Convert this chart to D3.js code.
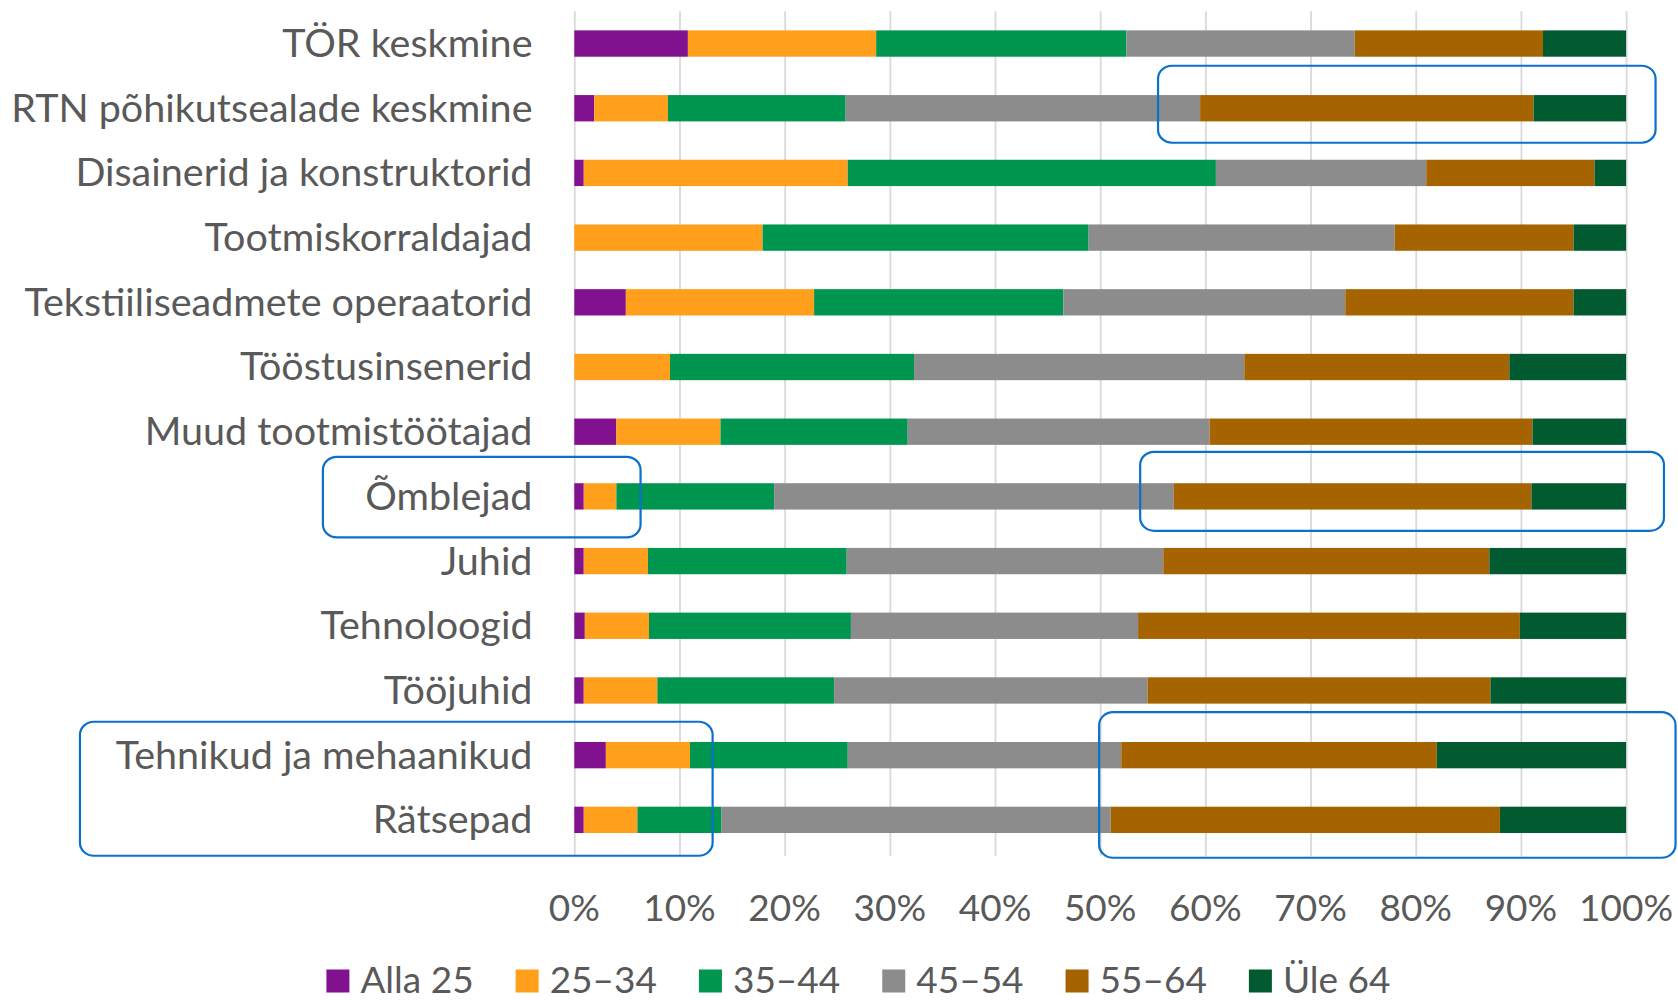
<!DOCTYPE html>
<html>
<head>
<meta charset="utf-8">
<title>Vanuseline jaotus</title>
<script src="https://cdn.jsdelivr.net/npm/d3@7"></script>
<style>
body { margin: 0; background: #fff; }
text { font-family: Lato, "Open Sans", sans-serif; fill: #595959; }
.grid line { stroke: #d9d9d9; stroke-width: 1.8px; }
.grid path { display: none; }
.note { fill: none; stroke: #0a70cc; stroke-width: 2.2px; }
</style>
</head>
<body>
<script>
// kategooriad ülevalt alla
var categories = [
  "TÖR keskmine",
  "RTN põhikutsealade keskmine",
  "Disainerid ja konstruktorid",
  "Tootmiskorraldajad",
  "Tekstiiliseadmete operaatorid",
  "Tööstusinsenerid",
  "Muud tootmistöötajad",
  "Õmblejad",
  "Juhid",
  "Tehnoloogid",
  "Tööjuhid",
  "Tehnikud ja mehaanikud",
  "Rätsepad"
];

var seriesNames = ["Alla 25", "25–34", "35–44", "45–54", "55–64", "Üle 64"];
var seriesColors = ["#821190", "#ff9f1c", "#00964f", "#8c8c8c", "#a66400", "#025a30"];

// osakaalud protsentides, üks massiiv iga vanuserühma kohta
var alla25 = [10.8, 1.9, 0.9, 0, 4.9, 0, 4.0, 0.9, 0.9, 1.0, 0.9, 3.0, 0.9];
var v25_34 = [17.9, 7.0, 25.1, 17.9, 17.9, 9.1, 9.9, 3.1, 6.1, 6.1, 7.0, 8.0, 5.1];
var v35_44 = [23.8, 16.9, 35.0, 31.0, 23.7, 23.2, 17.8, 15.0, 18.9, 19.2, 16.8, 15.0, 8.0];
var v45_54 = [21.7, 33.7, 20.0, 29.1, 26.8, 31.4, 28.7, 38.0, 30.1, 27.3, 29.8, 26.0, 37.0];
var v55_64 = [17.9, 31.7, 16.0, 17.0, 21.7, 25.2, 30.7, 34.0, 31.0, 36.3, 32.6, 30.0, 37.0];
var yle64 = [7.9, 8.8, 3.0, 5.0, 5.0, 11.1, 8.9, 9.0, 13.0, 10.1, 12.9, 18.0, 12.0];

var tickValues = [0, 10, 20, 30, 40, 50, 60, 70, 80, 90, 100];

// esiletõstetud alad: ridade vahemik ja x protsentides
var notes = [
  { from: 1, to: 1, x0: 55.5, x1: 102.8, above: 42.5, below: 34.5 },
  { from: 7, to: 7, x0: -23.9, x1: 6.3, above: 39.6, below: 41 },
  { from: 7, to: 7, x0: 53.8, x1: 103.6, above: 44.6, below: 34.4 },
  { from: 11, to: 12, x0: -47.0, x1: 13.15, above: 33.4, below: 35.9 },
  { from: 11, to: 12, x0: 49.9, x1: 104.7, above: 43, below: 37.9 }
];

var width = 1678, height = 1000;
var plotLeft = 574.3, plotRight = 1626.1, plotTop = 11.2, plotBottom = 852.2;

var seriesData = [alla25, v25_34, v35_44, v45_54, v55_64, yle64];
var rows = categories.map(function(c, i) {
  var r = { name: c };
  seriesNames.forEach(function(s, k) { r[s] = seriesData[k][i]; });
  return r;
});

var stack = d3.stack().keys(seriesNames)(rows);

var x = d3.scaleLinear().domain([0, 100]).range([plotLeft, plotRight]);
var y = d3.scaleBand().domain(categories).range([plotTop, plotBottom])
  .paddingInner(0.593).paddingOuter(0.2965);

var svg = d3.select("body").append("svg")
  .attr("width", width)
  .attr("height", height);

svg.append("g")
  .attr("class", "grid")
  .attr("transform", "translate(0," + plotTop + ")")
  .call(d3.axisBottom(x).tickValues(tickValues).tickSize(plotBottom - plotTop + 4).tickFormat(""));

svg.append("g")
  .selectAll("g")
  .data(stack)
  .enter().append("g")
  .attr("fill", function(d, i) { return seriesColors[i]; })
  .selectAll("rect")
  .data(function(d) { return d; })
  .enter().append("rect")
  .attr("x", function(d) { return x(d[0]); })
  .attr("y", function(d) { return y(d.data.name); })
  .attr("width", function(d) { return x(d[1]) - x(d[0]); })
  .attr("height", y.bandwidth());

// kategooriate sildid
svg.append("g")
  .selectAll("text")
  .data(categories)
  .enter().append("text")
  .attr("x", 532.5)
  .attr("y", function(d) { return y(d) + y.bandwidth() / 2; })
  .attr("dy", "0.34em")
  .attr("text-anchor", "end")
  .style("font-size", "39.5px")
  .text(function(d) { return d; });

// x-telje sildid
svg.append("g")
  .selectAll("text")
  .data(tickValues)
  .enter().append("text")
  .attr("x", function(d) { return x(d); })
  .attr("y", 920.5)
  .attr("text-anchor", "middle")
  .style("font-size", "37px")
  .text(function(d) { return d + "%"; });

// legend
var legend = svg.append("g");
var lx = 326.4;
seriesNames.forEach(function(s, i) {
  legend.append("rect")
    .attr("x", lx).attr("y", 969.5)
    .attr("width", 23).attr("height", 23)
    .attr("fill", seriesColors[i]);
  var t = legend.append("text")
    .attr("x", lx + 34).attr("y", 993)
    .style("font-size", "37px")
    .text(s);
  lx += 34 + t.node().getComputedTextLength() + 42;
});

// sinised raamid
svg.append("g")
  .selectAll("rect")
  .data(notes)
  .enter().append("rect")
  .attr("class", "note")
  .attr("x", function(d) { return x(d.x0); })
  .attr("y", function(d) { return y(categories[d.from]) + y.bandwidth() / 2 - d.above; })
  .attr("width", function(d) { return x(d.x1) - x(d.x0); })
  .attr("height", function(d) {
    return y(categories[d.to]) - y(categories[d.from]) + d.above + d.below;
  })
  .attr("rx", 14).attr("ry", 13);
</script>
</body>
</html>
